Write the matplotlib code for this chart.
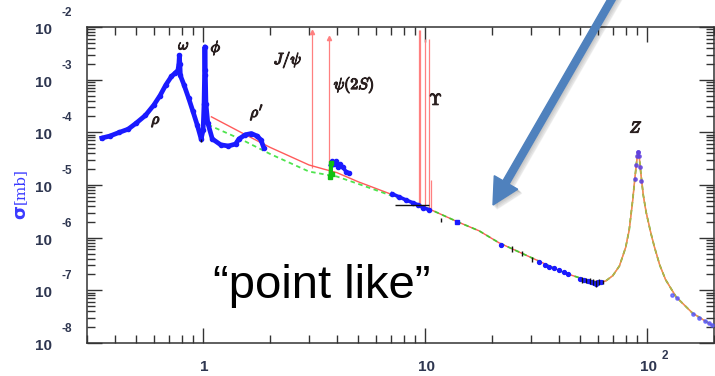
import matplotlib.pyplot as plt
import matplotlib.patheffects as pe
from matplotlib.patches import FancyArrow
from matplotlib.ticker import LogLocator, NullFormatter
from matplotlib.transforms import IdentityTransform, offset_copy

plt.rcParams["mathtext.fontset"] = "cm"

# e+e- -> hadrons, sqrt(s) in GeV, sigma in mb
low_E = [0.35, 0.38, 0.42, 0.46, 0.50, 0.55, 0.60, 0.64, 0.68, 0.72, 0.75, 0.77,
         0.778, 0.782, 0.786, 0.79, 0.82, 0.86, 0.90, 0.94, 0.98, 1.00, 1.010,
         1.015, 1.019, 1.023, 1.03, 1.05, 1.10, 1.2, 1.3, 1.4, 1.45, 1.55, 1.65,
         1.75, 1.82, 1.88]
low_sig = [7.8e-5, 8.5e-5, 1.0e-4, 1.15e-4, 1.5e-4, 2.1e-4, 3.3e-4, 5.0e-4, 8.0e-4,
           1.15e-3, 1.35e-3, 1.5e-3, 2.0e-3, 2.9e-3, 2.0e-3, 1.2e-3, 8.0e-4, 4.5e-4,
           2.5e-4, 1.4e-4, 7.5e-5, 1.1e-4, 3.5e-4, 1.2e-3, 4.2e-3, 1.5e-3, 3.5e-4,
           1.5e-4, 7.5e-5, 5.8e-5, 5.5e-5, 6.0e-5, 7.5e-5, 9.0e-5, 9.5e-5, 8.5e-5,
           7.2e-5, 5.0e-5]

charm_E = [3.75, 3.8, 3.9, 3.97, 4.05, 4.15, 4.25, 4.4, 4.55]
charm_sig = [2.4e-5, 2.8e-5, 2.5e-5, 2.8e-5, 2.2e-5, 2.5e-5, 2.2e-5, 1.8e-5, 1.7e-5]

bottom_E = [7.1, 7.6, 8.2, 8.8, 9.3, 9.8, 10.4, 13.9]
bottom_sig = [6.8e-6, 6.0e-6, 5.2e-6, 4.6e-6, 4.2e-6, 3.7e-6, 3.4e-6, 2.0e-6]

high_E = [22, 32.5, 34.5, 36, 38, 40, 42, 44, 50, 52, 54, 56, 57.5, 58.8, 60, 62,
          88.5, 89.5, 90.2, 91.0, 91.3, 92.0, 93.0, 94.0,
          130, 136, 161, 172, 183, 189, 196]
high_sig = [7.4e-7, 3.4e-7, 3.0e-7, 2.8e-7, 2.6e-7, 2.4e-7, 2.2e-7, 2.05e-7, 1.65e-7,
            1.55e-7, 1.5e-7, 1.45e-7, 1.4e-7, 1.3e-7, 1.45e-7, 1.45e-7,
            1.3e-5, 2.4e-5, 3.6e-5, 4.2e-5, 4.3e-5, 3.5e-5, 2.2e-5, 1.2e-5,
            8.2e-8, 7.2e-8, 3.6e-8, 3.0e-8, 2.6e-8, 2.4e-8, 2.2e-8]

err_E = [0.98, 11.8, 24.6, 27.3, 30.4, 51, 53, 55, 57, 59, 61, 63]
err_sig = [7.0e-5, 2.2e-6, 6.2e-7, 5.0e-7, 3.9e-7, 1.6e-7, 1.55e-7, 1.5e-7,
           1.45e-7, 1.35e-7, 1.45e-7, 1.45e-7]
err_up = [0.5e-5, 0.2e-6, 0.8e-7, 0.6e-7, 0.4e-7, 0.2e-7, 0.2e-7, 0.2e-7,
          0.2e-7, 0.2e-7, 0.2e-7, 0.15e-7]

psi_E = [3.73, 3.76, 3.79]
psi_sig = [1.4e-5, 2.6e-5, 1.6e-5]

# pQCD / parton model prediction (continuum + Z)
model_E = [1.09, 1.5, 2.0, 3.0, 3.5, 4.0, 5.0, 7.6, 10, 14, 17.5, 21.5, 30, 43, 55, 62,
           65, 70, 75, 80, 83, 86, 88, 89.5, 90.5, 91.2, 92, 93.5, 96, 99, 104,
           108, 114, 121, 135, 160, 195, 200]
model_sig = [1.97e-4, 9.7e-5, 5.2e-5, 2.4e-5, 2.0e-5, 1.72e-5, 1.15e-5, 5.9e-6, 3.8e-6,
             2.0e-6, 1.35e-6, 8.0e-7, 4.2e-7, 2.1e-7, 1.5e-7, 1.45e-7,
             1.5e-7, 1.9e-7, 2.9e-7, 6.5e-7, 1.4e-6, 5.0e-6, 1.3e-5, 2.6e-5,
             3.8e-5, 4.3e-5, 3.6e-5, 1.8e-5, 6.5e-6, 3.0e-6, 1.2e-6, 6.5e-7,
             3.0e-7, 1.6e-7, 7.5e-8, 3.7e-8, 2.2e-8, 2.05e-8]
naive_E = [1.05, 1.5, 2.0, 3.0, 3.5, 4.0, 5.0, 7.6]
naive_sig = [1.4e-4, 7.2e-5, 3.9e-5, 1.8e-5, 1.6e-5, 1.45e-5, 1.05e-5, 5.6e-6]

# narrow vector resonances: position, peak height, continuum level
res_E = [3.097, 3.686, 9.40, 9.52, 10.02, 10.36, 10.58]
res_top = [8.0e-3, 6.2e-3, 8.8e-3, 8.8e-3, 5.9e-3, 5.9e-3, 1.26e-5]
res_base = [2.1e-5, 1.7e-5, 4.3e-6, 4.2e-6, 3.8e-6, 3.6e-6, 3.5e-6]
arrow_tips = [0, 1]

W, H = 715, 376
fig = plt.figure(figsize=(W / 100, H / 100), dpi=100)
ax = fig.add_axes([87 / W, 33 / H, 627 / W, 316 / H])
ax.set_xscale("log")
ax.set_yscale("log")
ax.set_xlim(0.3, 200)
ax.set_ylim(1e-8, 1e-2)

red = "#ff5a5a"
blue = "#1a1aff"

ax.vlines(res_E, res_base, res_top, color="#ff8080", lw=0.9, zorder=2)
ax.plot([res_E[i] for i in arrow_tips], [res_top[i] for i in arrow_tips], "^",
        color="#ff8080", ms=3, zorder=2)

n_cont = model_E.index(10)
ax.plot(model_E, model_sig, color=red, lw=1.0, zorder=3)
ax.plot(naive_E + model_E[n_cont:], naive_sig + model_sig[n_cont:], color="#22dd22",
        lw=1.3, ls=(0, (2.5, 2)), alpha=0.8, zorder=3)
n_z = model_E.index(65)
ax.plot(model_E[n_z:], model_sig[n_z:], color="#e8a050", lw=1.0, alpha=0.8, zorder=3)

ax.plot(low_E, low_sig, "o-", color=blue, lw=3.4, ms=3, zorder=4)
ax.plot(charm_E, charm_sig, "o-", color=blue, lw=2.6, ms=3, zorder=4)
ax.plot(bottom_E[:-1], bottom_sig[:-1], "o-", color=blue, lw=2.6, ms=3, zorder=4)
ax.plot(bottom_E[-1:], bottom_sig[-1:], "s", color=blue, ms=3, zorder=4)
ax.plot(high_E[:16], high_sig[:16], "o", color=blue, ms=2.8, zorder=4)
ax.plot(high_E[16:24], high_sig[16:24], "o", color="#6040e0", ms=2.4, alpha=0.8, zorder=4)
ax.plot(high_E[24:], high_sig[24:], "o", color="#5050ff", ms=2.4, alpha=0.7, zorder=4)
ax.plot(psi_E, psi_sig, "s-", color="#10c010", lw=2.4, ms=2.5, zorder=4)
ax.errorbar(err_E, err_sig, yerr=err_up, fmt="none", ecolor="#111111", elinewidth=1.0,
            zorder=5)
ax.hlines(4.2e-6, 7.3, 10.4, color="#111111", lw=1.0, zorder=5)

# axis frame and ticks
for s in ax.spines.values():
    s.set_linewidth(1.1)
    s.set_color("#333333")
ax.xaxis.set_major_locator(LogLocator(base=10, numticks=10))
ax.xaxis.set_minor_locator(LogLocator(base=10, subs=range(2, 10), numticks=40))
ax.yaxis.set_major_locator(LogLocator(base=10, numticks=10))
ax.yaxis.set_minor_locator(LogLocator(base=10, subs=range(2, 10), numticks=60))
ax.xaxis.set_minor_formatter(NullFormatter())
ax.yaxis.set_minor_formatter(NullFormatter())
ax.tick_params(which="both", direction="in", top=True, right=True,
               labelbottom=False, labelleft=False, color="#333333", width=1.0)
ax.tick_params(which="major", length=10.5)
ax.tick_params(which="minor", length=5.5)

lab_kw = dict(color="#2e3650", family="Liberation Sans", fontweight="bold",
              textcoords="offset pixels", annotation_clip=False)
for p in range(-8, -1):
    ax.annotate("10", xy=(0, 10.0 ** p), xycoords=("axes fraction", "data"),
                xytext=(-43, -3), ha="center", va="center", fontsize=11, **lab_kw)
    ax.annotate(str(p), xy=(0, 10.0 ** p), xycoords=("axes fraction", "data"),
                xytext=(-20, 14), ha="center", va="center", fontsize=8.5, **lab_kw)
for v, t in [(1, "1"), (10, "10"), (100, "10")]:
    ax.annotate(t, xy=(v, 0), xycoords=("data", "axes fraction"),
                xytext=(1, -24), ha="center", va="center", fontsize=11, **lab_kw)
ax.annotate("2", xy=(100, 0), xycoords=("data", "axes fraction"),
            xytext=(18, -13), ha="center", va="center", fontsize=8.5, **lab_kw)

# resonance names, stroked to look heavier
names = [(0.614, 1.64e-4, r"$\rho$"), (0.821, 4.55e-3, r"$\omega$"),
         (1.144, 4.0e-3, r"$\phi$"), (1.75, 2.44e-4, r"$\rho'$"),
         (2.41, 2.37e-3, r"$J/\psi$"), (4.79, 7.9e-4, r"$\psi(2S)$"),
         (11.2, 4.1e-4, r"$\Upsilon$"), (89.2, 1.2e-4, r"$Z$")]
bold = [pe.withStroke(linewidth=0.8, foreground="#2a2020")]
for x, y, t in names:
    ax.text(x, y, t, ha="center", va="center", fontsize=11.5, color="#2a2020",
            zorder=6, path_effects=bold)

# axis title
fig.text(20 / W, 1 - 212 / H, "σ", rotation=90, ha="center", va="center",
         fontsize=13, fontweight="bold", color="#3a3aff", family="DejaVu Sans")
fig.text(20 / W, 1 - 186 / H, "[mb]", rotation=90, ha="center", va="center",
         fontsize=11, color="#3a3aff", family="DejaVu Serif")

fig.text(322 / W, 1 - 298 / H, "\u201cpoint like\u201d", ha="center", va="baseline",
         fontsize=34, family="Liberation Sans", color="black")

# callout arrow with a soft drop shadow
ident = IdentityTransform()
arrow_kw = dict(width=7, head_width=27, head_length=26, length_includes_head=True)
for k in range(1, 5):
    shadow = FancyArrow(617, 386, -124, -215, color="#000000", alpha=0.05,
                        transform=offset_copy(ident, fig=fig, x=k, y=-k, units="dots"),
                        **arrow_kw)
    fig.add_artist(shadow)
arrow = FancyArrow(617, 386, -124, -215, color="#4f81bd", transform=ident, **arrow_kw)
fig.add_artist(arrow)

fig.savefig("out.png", dpi=100)
